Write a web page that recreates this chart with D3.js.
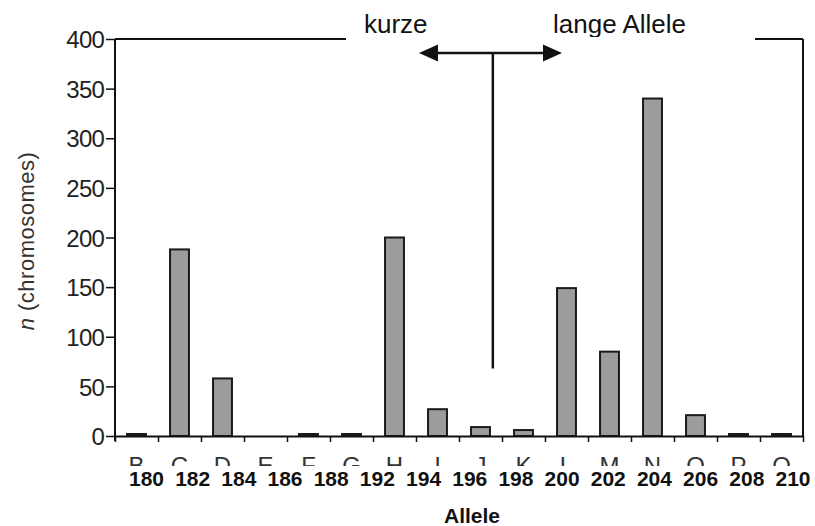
<!DOCTYPE html>
<html>
<head>
<meta charset="utf-8">
<script src="https://cdn.jsdelivr.net/npm/d3@7"></script>
<style>
  html, body { margin: 0; padding: 0; background: #fff; }
  svg { display: block; font-family: "Liberation Sans", Arial, Helvetica, sans-serif; }
</style>
</head>
<body>
<svg id="chart" width="815" height="526"></svg>
<script>
// Allele categories (letters) and chromosome counts per allele
const categories = ["B","C","D","E","F","G","H","I","J","K","L","M","N","O","P","Q"];
const counts     = [2, 188, 58, 0, 2, 2, 200, 27, 9, 6, 149, 85, 340, 21, 2, 2];
// Repeat lengths written under the letters
const alleleSizes = ["180","182","184","186","188","192","194","196","198","200","202","204","206","208","210"];
const yTicks = [0, 50, 100, 150, 200, 250, 300, 350, 400];

(function draw() {
  const svg = d3.select("#chart");
  const plotLeft = 115, plotRight = 803, plotTop = 39, plotBottom = 436;
  const ink = "#111";

  const x = d3.scaleBand().domain(categories).range([plotLeft, plotRight]).padding(0);
  const xEdges = d3.scaleLinear().domain([0, categories.length]).range([plotLeft, plotRight]);
  const y = d3.scaleLinear().domain([0, 400]).range([plotBottom, plotTop]);
  const nx = d3.scalePoint().domain(alleleSizes).range([146.5, 793]);

  // bars
  const bw = x.bandwidth() * 0.44;
  svg.append("g").selectAll("rect")
    .data(categories.map((c, i) => ({ c, v: counts[i] })).filter(d => d.v > 0))
    .join("rect")
    .attr("x", d => x(d.c) + (x.bandwidth() - bw) / 2)
    .attr("width", bw)
    .attr("y", d => y(d.v))
    .attr("height", d => y(0) - y(d.v))
    .attr("fill", "#9c9c9c")
    .attr("stroke", "#1a1a1a")
    .attr("stroke-width", 2);

  // y axis
  const yAxis = svg.append("g")
    .attr("transform", `translate(${plotLeft},0)`)
    .call(d3.axisLeft(y).tickValues(yTicks).tickSize(9).tickSizeOuter(0).tickPadding(2));
  yAxis.select(".domain").attr("stroke", ink).attr("stroke-width", 2)
    .attr("d", `M0,${plotTop}V${plotBottom + 5}`);
  yAxis.selectAll(".tick line").attr("stroke", ink).attr("stroke-width", 1.5);
  yAxis.selectAll(".tick text")
    .attr("fill", "#222")
    .style("font-size", "24px")
    .style("letter-spacing", "-0.8px")
    .attr("dy", "0.36em");

  // x axis: ticks at the category boundaries
  const xAxis = svg.append("g")
    .attr("transform", `translate(0,${plotBottom})`)
    .call(d3.axisBottom(xEdges).tickValues(d3.range(categories.length + 1)).tickSize(6).tickSizeOuter(0).tickFormat(""));
  xAxis.select(".domain").attr("stroke", ink).attr("stroke-width", 2);
  xAxis.selectAll(".tick line").attr("stroke", ink).attr("stroke-width", 1.5);

  // frame: right side and top with a gap for the annotation
  svg.append("line").attr("x1", plotRight).attr("x2", plotRight).attr("y1", plotTop).attr("y2", plotBottom)
    .attr("stroke", ink).attr("stroke-width", 2);
  svg.append("line").attr("x1", plotLeft).attr("x2", 346).attr("y1", plotTop).attr("y2", plotTop)
    .attr("stroke", ink).attr("stroke-width", 2);
  svg.append("line").attr("x1", 755).attr("x2", plotRight).attr("y1", plotTop).attr("y2", plotTop)
    .attr("stroke", ink).attr("stroke-width", 2);

  // clip regions for partially hidden text
  const defs = svg.append("defs");
  defs.append("clipPath").attr("id", "letterClip")
    .append("rect").attr("x", 0).attr("y", 440).attr("width", 815).attr("height", 26);
  defs.append("clipPath").attr("id", "topClip")
    .append("rect").attr("x", 0).attr("y", 0).attr("width", 815).attr("height", 37);

  // category letters (only their upper part shows)
  svg.append("g").attr("clip-path", "url(#letterClip)")
    .selectAll("text").data(categories).join("text")
    .attr("x", d => x(d) + x.bandwidth() / 2)
    .attr("y", 474)
    .attr("text-anchor", "middle")
    .attr("fill", "#333")
    .style("font-size", "24px")
    .text(d => d);

  // allele sizes
  svg.append("g").selectAll("text").data(alleleSizes).join("text")
    .attr("x", d => nx(d))
    .attr("y", 486)
    .attr("text-anchor", "middle")
    .attr("fill", ink)
    .style("font-size", "21px")
    .style("font-weight", "bold")
    .text(d => d);

  // x title
  svg.append("text")
    .attr("x", 472).attr("y", 523)
    .attr("text-anchor", "middle")
    .attr("fill", ink)
    .style("font-size", "21px")
    .style("font-weight", "bold")
    .text("Allele");

  // y title
  const yt = svg.append("text")
    .attr("transform", "translate(34,241) rotate(-90)")
    .attr("text-anchor", "middle")
    .attr("fill", "#333")
    .style("font-size", "22px")
    .style("letter-spacing", "0.5px");
  yt.append("tspan").style("font-style", "italic").text("n");
  yt.append("tspan").text(" (chromosomes)");

  // short / long allele annotation
  const topLabels = svg.append("g").attr("clip-path", "url(#topClip)")
    .attr("fill", ink).style("font-size", "26px");
  topLabels.append("text").attr("x", 364).attr("y", 33).text("kurze");
  topLabels.append("text").attr("x", 553).attr("y", 33).text("lange Allele");

  const divX = (nx("196") + nx("198")) / 2;
  const arrowY = 53, tipL = 419, tipR = 562, headLen = 19, headHalf = 8.5;
  svg.append("line").attr("x1", tipL + headLen - 1).attr("x2", tipR - headLen + 1)
    .attr("y1", arrowY).attr("y2", arrowY).attr("stroke", ink).attr("stroke-width", 2.5);
  svg.append("path")
    .attr("d", `M${tipL},${arrowY}L${tipL + headLen},${arrowY - headHalf}L${tipL + headLen},${arrowY + headHalf}Z`)
    .attr("fill", ink);
  svg.append("path")
    .attr("d", `M${tipR},${arrowY}L${tipR - headLen},${arrowY - headHalf}L${tipR - headLen},${arrowY + headHalf}Z`)
    .attr("fill", ink);
  svg.append("line").attr("x1", divX).attr("x2", divX)
    .attr("y1", arrowY).attr("y2", y(68))
    .attr("stroke", ink).attr("stroke-width", 2.5);
})();
</script>
</body>
</html>
